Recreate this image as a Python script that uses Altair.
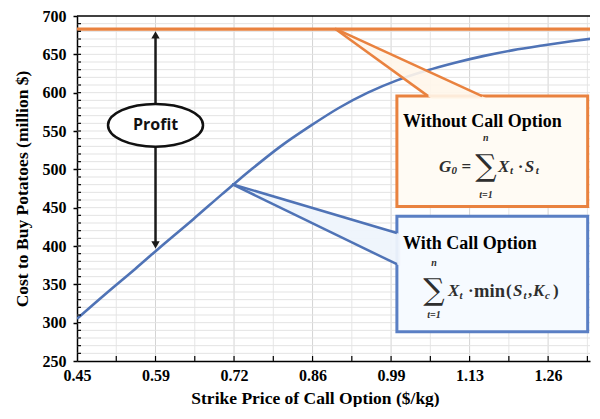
import altair as alt
import pandas as pd

# ---------------- data ----------------
strike = [0.45, 0.50, 0.55, 0.60, 0.65, 0.70, 0.72, 0.75, 0.80, 0.85, 0.90,
          0.95, 1.00, 1.05, 1.10, 1.15, 1.20, 1.25, 1.30, 1.35]
cost_with_option = [305, 338, 370, 403, 435, 468, 481, 500, 530, 556, 580,
                    600, 616, 628.5, 639, 648, 655.5, 661.5, 667, 672]
cost_without_option = 683  # G0, flat

x_tick_values = [0.45, 0.585, 0.72, 0.855, 0.99, 1.125, 1.26]
x_tick_labels = ["0.45", "0.59", "0.72", "0.86", "0.99", "1.13", "1.26"]
y_tick_values = [250, 300, 350, 400, 450, 500, 550, 600, 650, 700]

W, H = 513, 345
X_MIN, X_MAX = 0.45, 1.332
Y_MIN, Y_MAX = 250, 700

xs = alt.Scale(domain=[X_MIN, X_MAX], nice=False, zero=False)
ys = alt.Scale(domain=[Y_MIN, Y_MAX], nice=False, zero=False)

SERIF = "Liberation Serif"
ORANGE = "#E9823F"
BLUE = "#4F73B6"

label_expr = " : ".join(
    f"abs(datum.value - {v}) < 0.001 ? '{l}'" for v, l in zip(x_tick_values, x_tick_labels)
) + " : ''"

X_TITLE = "Strike Price of Call Option ($/kg)"
Y_TITLE = "Cost to Buy Potatoes (million $)"
x_axis = alt.Axis(values=x_tick_values, labelExpr=label_expr, ticks=False, labelFlush=False,
                  labelPadding=6, titleX=238, titleY=37, titleBaseline="middle",
                  titleAlign="center")
y_axis = alt.Axis(values=y_tick_values, tickSize=4, tickColor="black", tickWidth=1.5,
                  labelFlush=False, labelPadding=7, titleX=-55, titleY=H / 2,
                  titleBaseline="middle", titleAlign="center", titleAngle=-90)


def X(f):
    return alt.X(f, type="quantitative", scale=xs, axis=x_axis, title=X_TITLE)


def Y(f):
    return alt.Y(f, type="quantitative", scale=ys, axis=y_axis, title=Y_TITLE)


def X2(f):
    return alt.X2(f)


def Y2(f):
    return alt.Y2(f)


# grid values (half-tick vertical, every 10 horizontal)
half = 0.0675
vg = [round(X_MIN + k * half, 4) for k in range(1, 14) if X_MIN + k * half < X_MAX]
vgrid = pd.DataFrame({"x": vg, "major": [i % 2 == 1 for i in range(len(vg))]})
hgrid = pd.DataFrame({"y": list(range(260, 700, 10))})

layers = []

# gridlines
layers.append(alt.Chart(vgrid).mark_rule(strokeWidth=1).encode(
    x=X("x"),
    color=alt.condition("datum.major", alt.value("#d4d4d4"), alt.value("#e6e6e6"))))
layers.append(alt.Chart(hgrid).mark_rule(strokeWidth=1, color="#e3e3e3").encode(y=Y("y")))

# orange flat line
flat = pd.DataFrame({"x": [X_MIN, X_MAX], "y": [cost_without_option] * 2})
layers.append(alt.Chart(flat).mark_line(color=ORANGE, strokeWidth=3.2).encode(x=X("x"), y=Y("y")))

# blue curve
curve = pd.DataFrame({"x": strike, "y": cost_with_option})
layers.append(alt.Chart(curve).mark_line(color=BLUE, strokeWidth=2.6, interpolate="monotone",
                                         clip=True).encode(x=X("x"), y=Y("y")))

# ---------- call-out boxes ----------
orange_box = pd.DataFrame({"x": [1.000], "x2": [1.328], "y": [595.5], "y2": [451.4]})
blue_box = pd.DataFrame({"x": [1.000], "x2": [1.328], "y": [438.7], "y2": [288.2]})
layers.append(alt.Chart(orange_box).mark_rect(fill="#FFFBF4", stroke=ORANGE, strokeWidth=3).encode(
    x=X("x"), x2=X2("x2"), y=Y("y"), y2=Y2("y2")))
layers.append(alt.Chart(blue_box).mark_rect(fill="#F6FAFF", stroke="#5A7FC4", strokeWidth=3).encode(
    x=X("x"), x2=X2("x2"), y=Y("y"), y2=Y2("y2")))

# wedges (pointer of callouts)
o_wedge = pd.DataFrame({"y": [683.4, 591.6], "x": [0.8937, 1.0605], "x2": [0.8937, 1.1568]})
layers.append(alt.Chart(o_wedge).mark_area(orient="horizontal", fill="#FFF6EA", opacity=0.9).encode(
    y=Y("y"), x=X("x"), x2=X2("x2")))
b_wedge = pd.DataFrame({"x": [0.7166, 1.0055], "y": [480.7, 415.8], "y2": [480.7, 374.3]})
layers.append(alt.Chart(b_wedge).mark_area(orient="vertical", fill="#EEF4FC", opacity=0.95).encode(
    x=X("x"), y=Y("y"), y2=Y2("y2")))

o_edges = pd.DataFrame({"x": [0.8937, 0.8937], "y": [683.4, 683.4],
                        "x2": [1.0536, 1.1465], "y2": [595.5, 595.5]})
layers.append(alt.Chart(o_edges).mark_rule(color=ORANGE, strokeWidth=2.5).encode(
    x=X("x"), y=Y("y"), x2=X2("x2"), y2=Y2("y2")))
b_edges = pd.DataFrame({"x": [0.7166, 0.7166], "y": [480.7, 480.7],
                        "x2": [1.000, 1.000], "y2": [417.0, 376.2]})
layers.append(alt.Chart(b_edges).mark_rule(color="#4F73B6", strokeWidth=2.5).encode(
    x=X("x"), y=Y("y"), x2=X2("x2"), y2=Y2("y2")))

# ---------- profit arrow ----------
arrow = pd.DataFrame({"x": [0.585], "y": [676], "y2": [401]})
layers.append(alt.Chart(arrow).mark_rule(color="#1a1a1a", strokeWidth=2.5).encode(
    x=X("x"), y=Y("y"), y2=Y2("y2")))
heads = pd.DataFrame({"x": [0.585, 0.585], "y": [675.5, 401.5], "shape": ["triangle-up", "triangle-down"]})
layers.append(alt.Chart(heads).mark_point(filled=True, color="#1a1a1a", size=70, opacity=1).encode(
    x=X("x"), y=Y("y"), shape=alt.Shape("shape:N", scale=None, legend=None)))
ell = pd.DataFrame({"x": [0.585], "y": [557.5], "t": ["Profit"]})
ellipse_path = "M -1 0 A 1 0.45 0 1 1 1 0 A 1 0.45 0 1 1 -1 0 Z"
layers.append(alt.Chart(ell).mark_point(shape=ellipse_path, size=95 * 95, filled=True, fill="white",
                                         stroke="#111", strokeWidth=2.5, opacity=1).encode(
    x=X("x"), y=Y("y")))
layers.append(alt.Chart(ell).mark_text(font="Open Sans", fontWeight="bold", fontSize=16, color="#111").encode(
    x=X("x"), y=Y("y"), text="t"))

# ---------- call-out texts ----------
heads_txt = pd.DataFrame({"x": [1.0106, 1.0106], "y": [562.3, 403.0],
                          "t": ["Without Call Option", "With Call Option"]})
layers.append(alt.Chart(heads_txt).mark_text(font=SERIF, fontWeight="bold", fontSize=18, align="left",
                                             color="black").encode(x=X("x"), y=Y("y"), text="t"))

FC = "#2e2e2e"
f_ital = pd.DataFrame({"x": [1.0725, 1.1740, 1.2197, 1.088, 1.1998, 1.2342],
                       "y": [502.4, 502.4, 502.4, 341.8, 341.8, 341.8],
                       "t": ["G", "X", "S", "X", "S", "K"]})
layers.append(alt.Chart(f_ital).mark_text(font=SERIF, fontWeight="bold", fontStyle="italic", fontSize=17,
                                          align="left", color=FC).encode(x=X("x"), y=Y("y"), text="t"))
f_up = pd.DataFrame({"x": [1.1110, 1.2077, 1.1224, 1.1877, 1.2256, 1.2686],
                     "y": [502.4, 502.4, 341.8, 341.8, 341.8, 341.8],
                     "t": ["=", "·", "·", "(", ",", ")"]})
layers.append(alt.Chart(f_up).mark_text(font=SERIF, fontWeight="bold", fontSize=17,
                                        align="left", color=FC).encode(x=X("x"), y=Y("y"), text="t"))
f_min = pd.DataFrame({"x": [1.1327], "y": [341.8], "t": ["min"]})
layers.append(alt.Chart(f_min).mark_text(font=SERIF, fontWeight="bold", fontSize=18.5,
                                         align="left", color=FC).encode(x=X("x"), y=Y("y"), text="t"))
f_sub = pd.DataFrame({"x": [1.0940, 1.1946, 1.2386, 1.1078, 1.2178, 1.2548],
                      "y": [497.3, 497.3, 497.3, 335.4, 335.4, 335.4],
                      "t": ["0", "t", "t", "t", "t", "c"]})
layers.append(alt.Chart(f_sub).mark_text(font=SERIF, fontWeight="bold", fontStyle="italic", fontSize=11,
                                         align="left", color=FC).encode(x=X("x"), y=Y("y"), text="t"))
f_lim = pd.DataFrame({"x": [1.1530, 1.1530, 1.0639, 1.0639],
                      "y": [540.6, 466.7, 377.5, 309.9],
                      "t": ["n", "t=1", "n", "t=1"]})
layers.append(alt.Chart(f_lim).mark_text(font=SERIF, fontWeight="bold", fontStyle="italic", fontSize=10,
                                         align="center", color=FC).encode(x=X("x"), y=Y("y"), text="t"))
f_sig = pd.DataFrame({"x": [1.1530, 1.0639], "y": [502.4, 341.0], "t": ["∑", "∑"]})
layers.append(alt.Chart(f_sig).mark_text(font="DejaVu Serif", fontSize=30, align="center", baseline="middle",
                                         color=FC).encode(x=X("x"), y=Y("y"), text="t"))

# ---------- inward ticks & top border ----------
ytk = pd.DataFrame({"y": list(range(260, 700, 10))})
layers.append(alt.Chart(ytk).mark_rule(color="black", strokeWidth=1.2).encode(
    y=Y("y"), x=alt.value(0), x2=alt.value(4)))
xtk = pd.DataFrame({"x": vg})
layers.append(alt.Chart(xtk).mark_rule(color="black", strokeWidth=1.2).encode(
    x=X("x"), y=alt.value(H), y2=alt.value(H - 5)))
top = pd.DataFrame({"y": [Y_MAX]})
layers.append(alt.Chart(top).mark_rule(color="black", strokeWidth=1.5).encode(
    y=Y("y"), x=alt.value(0), x2=alt.value(W)))

chart = alt.layer(*layers).properties(
    width=W, height=H,
    autosize=alt.AutoSizeParams(type="none"),
    padding={"left": 69, "top": 8, "right": 2, "bottom": 46},
).configure_view(stroke=None).configure_axis(
    domainColor="black", domainWidth=1.5, grid=False,
    labelFont=SERIF, labelFontWeight="bold", labelFontSize=16, labelColor="black",
    titleFont=SERIF, titleFontWeight="bold", titleFontSize=17.5, titleColor="black",
)

chart.save("out.html", embed_options={"renderer": "svg", "actions": False})
